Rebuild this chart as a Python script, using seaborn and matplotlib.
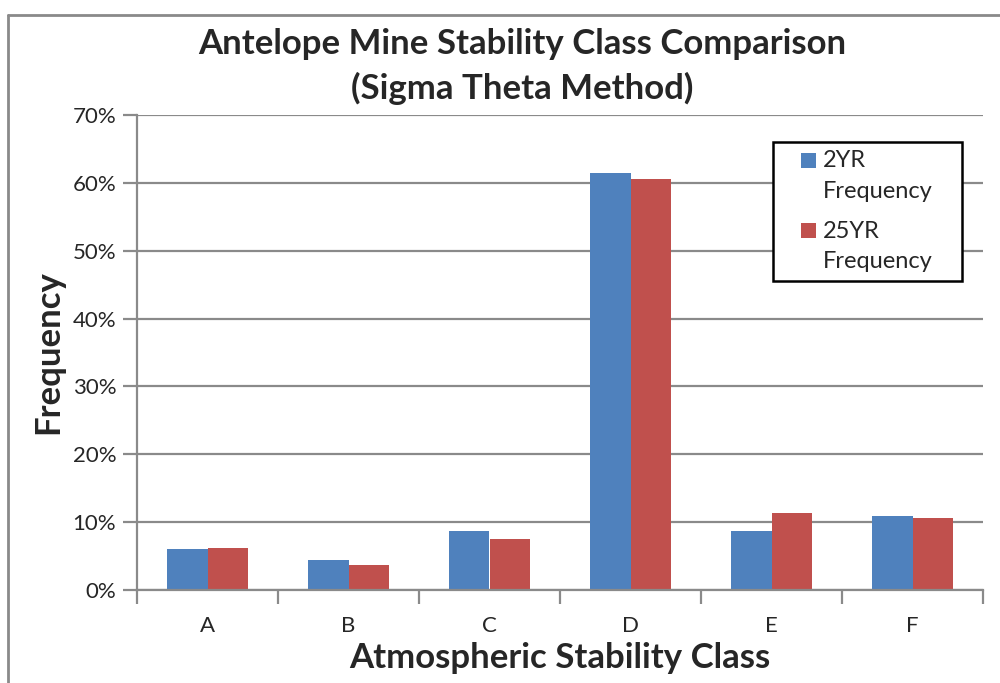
import matplotlib
matplotlib.use("Agg")
import matplotlib.pyplot as plt
import seaborn as sns
import pandas as pd
from matplotlib.lines import Line2D
from matplotlib.patches import Rectangle
from matplotlib.ticker import FuncFormatter, FixedLocator

categories = ["A", "B", "C", "D", "E", "F"]
freq_2yr = [5.97, 4.43, 8.67, 61.4, 8.63, 10.84]
freq_25yr = [6.16, 3.69, 7.44, 60.5, 11.37, 10.63]
series_names = ["2YR Frequency", "25YR Frequency"]
legend_lines = [("2YR", "Frequency"), ("25YR", "Frequency")]
colors = ["#4F81BD", "#C0504D"]
y_ticks = [0, 10, 20, 30, 40, 50, 60, 70]

sns.set_style("white")
plt.rcParams['font.family'] = ['Lato', 'DejaVu Sans']

df = pd.DataFrame({
    "Class": categories * 2,
    "Value": freq_2yr + freq_25yr,
    "Series": [series_names[0]] * 6 + [series_names[1]] * 6,
})

W, H = 1000, 683
fig = plt.figure(figsize=(10, 6.83), dpi=100)
ax = fig.add_axes([0.137, 0.1362, 0.846, 0.6954])

sns.barplot(data=df, x="Class", y="Value", hue="Series", order=categories,
            hue_order=series_names, palette=colors,
            width=0.57, gap=0, ax=ax, errorbar=None, saturation=1,
            edgecolor="none", linewidth=0, legend=False)

ax.set_xlim(-0.5, 5.5)
ax.set_ylim(0, 70)
ax.yaxis.set_major_locator(FixedLocator(y_ticks))
ax.yaxis.set_major_formatter(FuncFormatter(lambda v, p: f"{int(v)}%"))
ax.grid(axis="y", color="#8a8a8a", linewidth=1.6)
ax.set_axisbelow(True)

for s in ["top", "right"]:
    ax.spines[s].set_visible(False)
for s in ["left", "bottom"]:
    ax.spines[s].set_color("#8a8a8a")
    ax.spines[s].set_linewidth(1.6)

ax.tick_params(axis="y", which="major", length=10, width=1.6, color="#8a8a8a",
               labelsize=16, pad=5, left=True)
ax.tick_params(axis="x", which="major", length=0, labelsize=16, pad=19)
ax.set_xticks(range(6), categories)
ax.set_xticks([i - 0.5 for i in range(7)], minor=True)
ax.tick_params(axis="x", which="minor", length=10, width=1.6, color="#8a8a8a", bottom=True)

ax.set_xlabel("Atmospheric Stability Class", fontsize=25, fontweight="bold", labelpad=4)
ax.set_ylabel("Frequency", fontsize=25, fontweight="bold", labelpad=6)

fig.text(0.522, 0.936, "Antelope Mine Stability Class Comparison",
         ha="center", va="center", fontsize=25, fontweight="bold")
fig.text(0.522, 0.871, "(Sigma Theta Method)",
         ha="center", va="center", fontsize=25, fontweight="bold")

# legend box (drawn manually so the swatch aligns with the first text line)
def fx(px):
    return px / W

def fy(py):
    return 1 - py / H

fig.add_artist(Rectangle((fx(773), fy(281)), fx(962) - fx(773), fy(142) - fy(281),
                         transform=fig.transFigure, facecolor="white",
                         edgecolor="black", linewidth=1.8, zorder=5))
for i, ((l1, l2), c) in enumerate(zip(legend_lines, colors)):
    top = 152.5 + i * 70.5
    fig.add_artist(Rectangle((fx(801), fy(top + 15)), fx(15), 15 / H,
                             transform=fig.transFigure, facecolor=c,
                             edgecolor="none", zorder=6))
    fig.text(fx(823), fy(top + 8), l1, ha="left", va="center", fontsize=17, zorder=7)
    fig.text(fx(823), fy(top + 39), l2, ha="left", va="center", fontsize=17, zorder=7)

# outer chart border
fig.add_artist(Line2D([0.008, 0.008], [0, 0.978], color="#8a8a8a", linewidth=2,
                      transform=fig.transFigure))
fig.add_artist(Line2D([0.008, 1.0], [0.978, 0.978], color="#8a8a8a", linewidth=2,
                      transform=fig.transFigure))

fig.savefig("out.png", dpi=100)
